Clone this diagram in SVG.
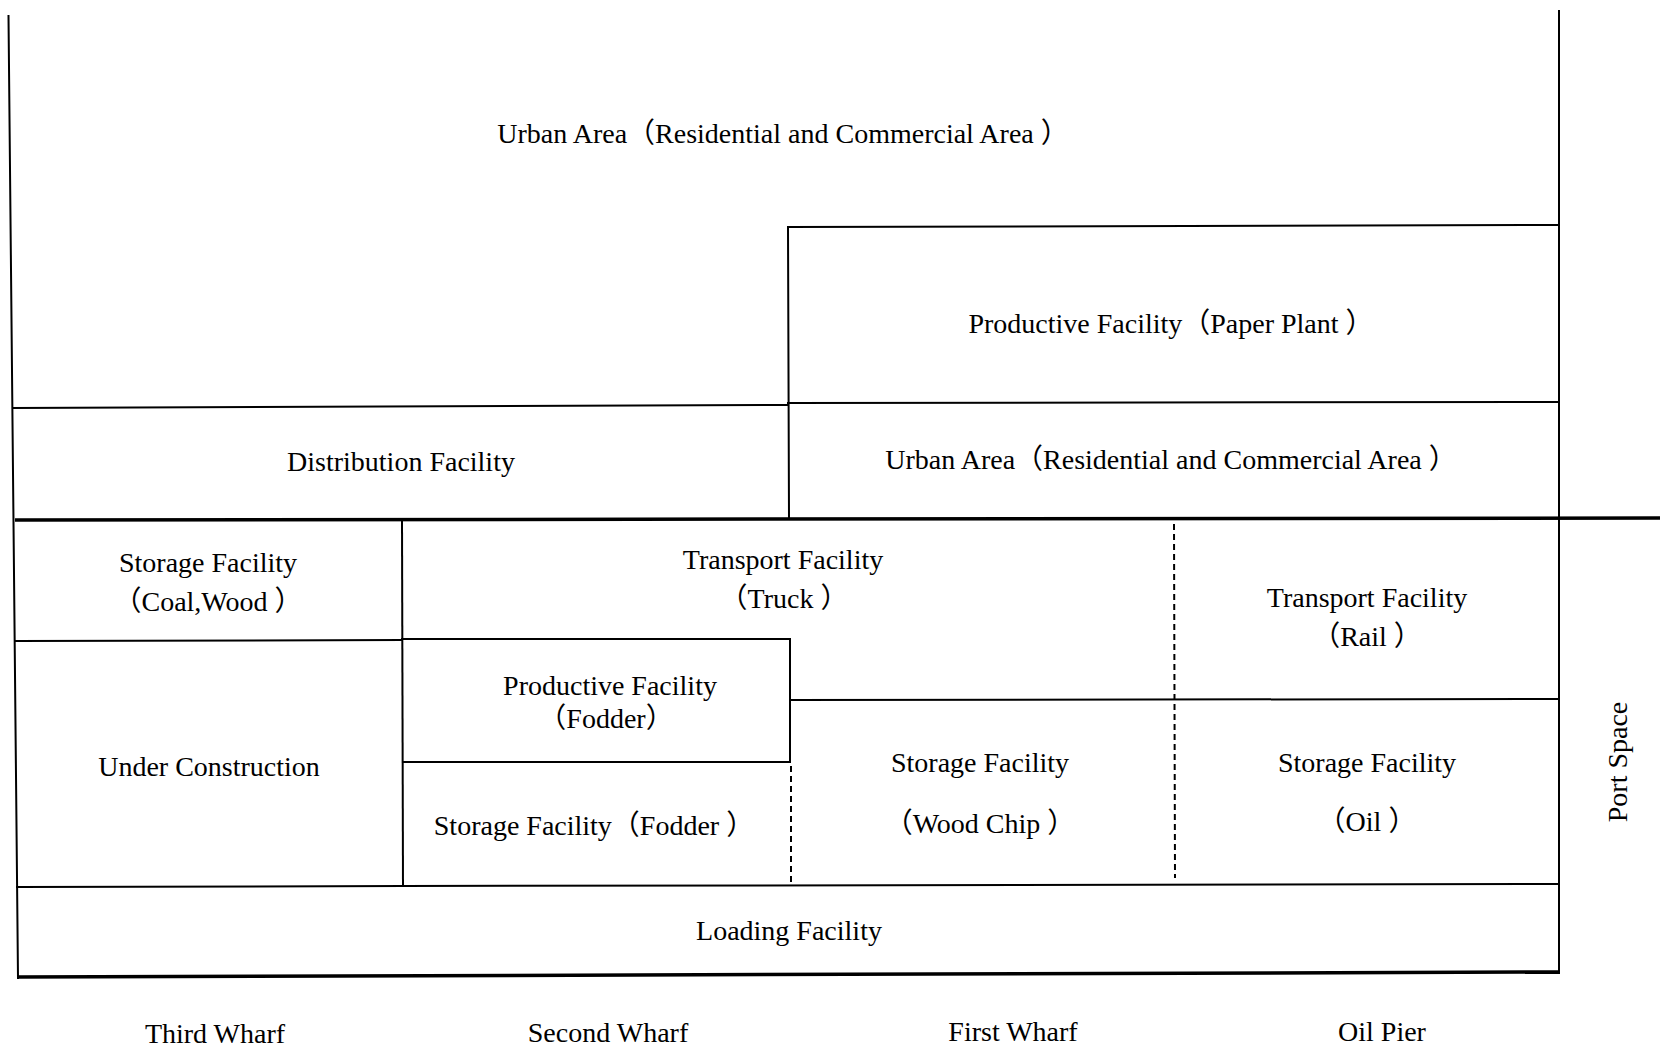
<svg xmlns="http://www.w3.org/2000/svg" width="1660" height="1050" viewBox="0 0 1660 1050">
<style>
.l{stroke:#000;stroke-width:2;fill:none;stroke-linecap:square}
.t{stroke:#000;stroke-width:3.5;fill:none}
.d{stroke:#000;stroke-width:2;fill:none;stroke-dasharray:6,4}
text{font-family:"Liberation Serif","Noto Sans CJK SC",serif;font-size:28px;fill:#000;text-anchor:middle}
</style>
<rect width="1660" height="1050" fill="#fff"/>
<g id="connectors">
<line class="l" x1="8.5" y1="16" x2="18" y2="978"/>
<line class="l" x1="1559" y1="11" x2="1559" y2="973"/>
<line class="l" x1="13" y1="408" x2="788" y2="405"/>
<line class="l" x1="788" y1="403" x2="1559" y2="402"/>
<line class="l" x1="788" y1="227" x2="1559" y2="225"/>
<line class="l" x1="788" y1="227" x2="789" y2="519"/>
<line class="t" x1="15" y1="520" x2="1660" y2="518"/>
<line class="l" x1="402" y1="521" x2="403" y2="886"/>
<line class="l" x1="16" y1="641" x2="402" y2="640"/>
<line class="l" x1="402" y1="639" x2="790" y2="639"/>
<line class="l" x1="790" y1="639" x2="790" y2="762"/>
<line class="l" x1="403" y1="762" x2="790" y2="762"/>
<line class="l" x1="790" y1="700" x2="1559" y2="699"/>
<line class="d" x1="791" y1="766" x2="791" y2="882"/>
<line class="d" x1="1174" y1="524" x2="1175" y2="878"/>
<line class="l" x1="17" y1="887" x2="403" y2="886"/>
<line class="l" x1="403" y1="886" x2="1559" y2="884"/>
<line class="t" x1="18" y1="977" x2="1559" y2="972"/>
</g>
<g id="urban-top"><text x="783" y="143">Urban Area（Residential and Commercial Area ）</text></g>
<g id="paper-plant"><text x="1171" y="333">Productive Facility（Paper Plant ）</text></g>
<g id="distribution"><text x="401" y="471">Distribution Facility</text></g>
<g id="urban-mid"><text x="1171" y="469">Urban Area（Residential and Commercial Area ）</text></g>
<g id="storage-coal"><text x="208" y="572">Storage Facility</text><text x="208" y="611">（Coal,Wood ）</text></g>
<g id="transport-truck"><text x="783" y="569">Transport Facility</text><text x="784" y="608">（Truck ）</text></g>
<g id="transport-rail"><text x="1367" y="607">Transport Facility</text><text x="1367" y="646">（Rail ）</text></g>
<g id="productive-fodder"><text x="610" y="695">Productive Facility</text><text x="606" y="728">（Fodder）</text></g>
<g id="under-construction"><text x="209" y="776">Under Construction</text></g>
<g id="storage-fodder"><text x="594" y="835">Storage Facility（Fodder ）</text></g>
<g id="storage-woodchip"><text x="980" y="772">Storage Facility</text><text x="980" y="833">（Wood Chip ）</text></g>
<g id="storage-oil"><text x="1367" y="772">Storage Facility</text><text x="1367" y="831">（Oil ）</text></g>
<g id="loading"><text x="789" y="940">Loading Facility</text></g>
<g id="port-space"><text transform="translate(1627,762) rotate(-90)">Port Space</text></g>
<g id="wharves">
<text x="215" y="1043">Third Wharf</text>
<text x="608" y="1042">Second Wharf</text>
<text x="1013" y="1041">First Wharf</text>
<text x="1382" y="1041">Oil Pier</text>
</g>
</svg>
